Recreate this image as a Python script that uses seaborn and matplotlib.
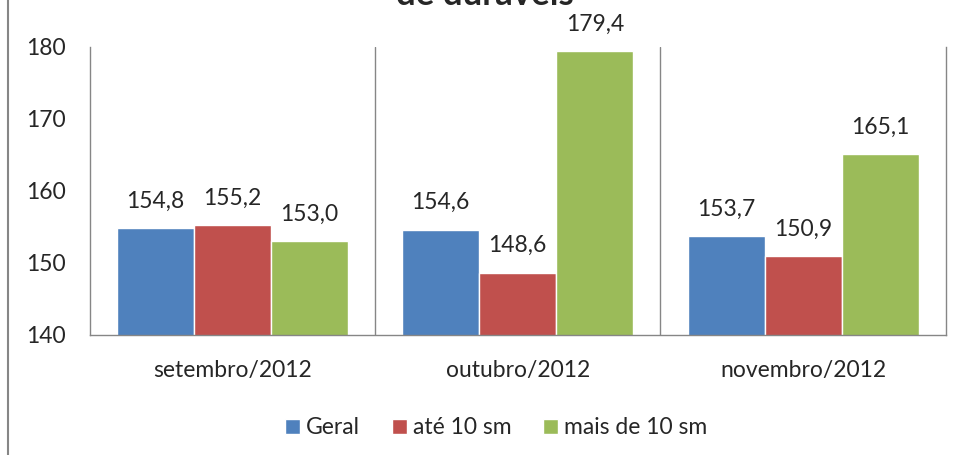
import matplotlib.pyplot as plt
import matplotlib.lines as mlines
import pandas as pd
import seaborn as sns

# data
months = ['setembro/2012', 'outubro/2012', 'novembro/2012']
series = ['Geral', 'até 10 sm', 'mais de 10 sm']
geral = [154.8, 154.6, 153.7]
ate_10 = [155.2, 148.6, 150.9]
mais_10 = [153.0, 179.4, 165.1]

colors = ['#4F81BD', '#C0504D', '#9BBB59']
grid_color = '#868686'
fs = 16.5

sns.set_style('white')
plt.rcParams['font.family'] = ['Lato', 'DejaVu Sans']

df = pd.DataFrame({
    'mes': months * 3,
    'serie': [s for s in series for _ in months],
    'valor': geral + ate_10 + mais_10,
})

fig = plt.figure(figsize=(9.66, 4.55), dpi=100)
ax = fig.add_axes([0.093, 0.264, 0.886, 0.633])

sns.barplot(data=df, x='mes', y='valor', hue='serie', order=months,
            hue_order=series, palette=colors, width=0.81, saturation=1,
            ax=ax, legend=True)

ax.set_ylim(140, 180)
ax.set_yticks([140, 150, 160, 170, 180])
ax.set_xlim(-0.5, 2.5)
ax.set_xlabel('')
ax.set_ylabel('')
ax.tick_params(axis='y', length=0, pad=17, labelsize=fs)
ax.tick_params(axis='x', length=0, pad=18, labelsize=fs)

ax.spines['top'].set_visible(False)
for side in ['left', 'right', 'bottom']:
    ax.spines[side].set_color(grid_color)
    ax.spines[side].set_linewidth(1)
for xb in [0.5, 1.5]:
    ax.axvline(xb, color=grid_color, lw=1, zorder=0)

for cont in ax.containers:
    labels = [f'{v:.1f}'.replace('.', ',') for v in cont.datavalues]
    ax.bar_label(cont, labels=labels, padding=12, fontsize=fs, clip_on=False)

handles, labs = ax.get_legend_handles_labels()
ax.legend(handles, labs, loc='upper center', bbox_to_anchor=(0.475, -0.215),
          ncol=3, frameon=False, fontsize=fs, handlelength=0.65,
          handleheight=0.65, handletextpad=0.25, columnspacing=1.4)

# title is cut off at the top edge in the reference
fig.text(0.502, 0.988, 'de duráveis', ha='center', va='baseline',
         fontsize=25, fontweight='bold')
fig.add_artist(mlines.Line2D([7.5 / 966, 7.5 / 966], [0, 1], color=grid_color, lw=1.5))

fig.savefig('out.png', dpi=100)
